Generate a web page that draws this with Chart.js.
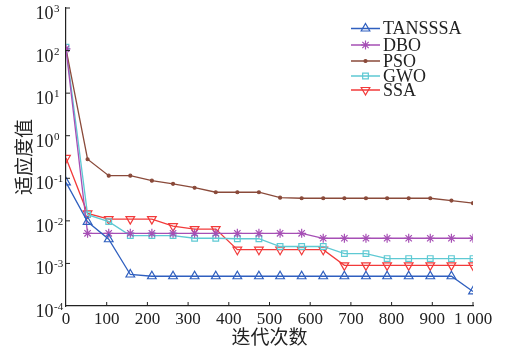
<!DOCTYPE html>
<html>
<head>
<meta charset="utf-8">
<script src="https://cdn.jsdelivr.net/npm/chart.js@4/dist/chart.umd.min.js"></script>
<style>
html,body{margin:0;padding:0;background:#fff;}
#wrap{position:relative;width:508px;height:348px;}
</style>
</head>
<body>
<div id="wrap"><canvas id="c" width="508" height="348"></canvas></div>
<script>
const iterations = [0, 53, 105, 158, 211, 263, 316, 368, 421, 474, 526, 579, 632, 684, 737, 789, 842, 895, 947, 1000];
const TANSSSA = [0.08, 0.0095, 0.0037, 0.00055, 0.0005, 0.0005, 0.0005, 0.0005, 0.0005, 0.0005, 0.0005, 0.0005, 0.0005, 0.0005, 0.0005, 0.0005, 0.0005, 0.0005, 0.0005, 0.00022];
const DBO = [110, 0.0051, 0.0051, 0.0051, 0.0051, 0.0051, 0.0051, 0.0051, 0.0051, 0.0051, 0.0051, 0.0051, 0.0039, 0.0039, 0.0039, 0.0039, 0.0039, 0.0039, 0.0039, 0.0039];
const PSO = [110, 0.28, 0.115, 0.115, 0.088, 0.074, 0.06, 0.047, 0.047, 0.047, 0.035, 0.034, 0.034, 0.034, 0.034, 0.034, 0.034, 0.034, 0.03, 0.026];
const GWO = [120, 0.014, 0.0096, 0.0045, 0.0045, 0.0045, 0.0039, 0.0039, 0.0038, 0.0038, 0.0025, 0.0025, 0.0025, 0.0017, 0.0017, 0.0013, 0.0013, 0.0013, 0.0013, 0.0013];
const SSA = [0.3, 0.015, 0.011, 0.011, 0.011, 0.0075, 0.0064, 0.0064, 0.0021, 0.0021, 0.0021, 0.0021, 0.0021, 0.0009, 0.0009, 0.0009, 0.0009, 0.0009, 0.0009, 0.0009];
const yTickExponents = [-4, -3, -2, -1, 0, 1, 2, 3];
const xTickLabels = {0:'0',100:'100',200:'200',300:'300',400:'400',500:'500',600:'600',700:'700',800:'800',900:'900',1000:'1 000'};

const seriesDefs = [
  {label:'TANSSSA', data:TANSSSA, color:'#2f5fbf', style:'triangle', r:5, rot:0},
  {label:'DBO', data:DBO, color:'#a64fb5', style:'star', r:4.5, rot:0},
  {label:'PSO', data:PSO, color:'#8a4a3a', style:'circle', r:1.5, rot:0},
  {label:'GWO', data:GWO, color:'#5ec9d3', style:'rect', r:4, rot:0},
  {label:'SSA', data:SSA, color:'#f23a3a', style:'triangle', r:5, rot:180}
];

const datasets = seriesDefs.map(s => ({
  label: s.label,
  data: s.data.map((v,i)=>({x:iterations[i], y:v})),
  borderColor: s.color,
  backgroundColor: s.style==='circle' ? s.color : 'rgba(0,0,0,0)',
  pointBorderColor: s.color,
  pointBackgroundColor: s.style==='circle' ? s.color : 'rgba(0,0,0,0)',
  pointStyle: s.style,
  pointRadius: s.r,
  pointRotation: s.rot,
  pointBorderWidth: 1.2,
  borderWidth: 1.3,
  tension: 0,
  fill: false
}));

const legendPlugin = {
  id:'customLegend',
  afterDraw(chart){
    const ctx = chart.ctx;
    const rows = [28.5, 45, 61, 76, 90];
    ctx.save();
    seriesDefs.forEach((s,i)=>{
      const y = rows[i];
      ctx.strokeStyle = s.color; ctx.lineWidth = 1.5;
      ctx.beginPath(); ctx.moveTo(351,y); ctx.lineTo(380,y); ctx.stroke();
      ctx.fillStyle = s.style==='circle' ? s.color : 'rgba(0,0,0,0)';
      ctx.lineWidth = 1.2;
      Chart.helpers.drawPoint(ctx, {pointStyle:s.style, radius:s.r, rotation:s.rot, borderWidth:1.2}, 365.5, y);
      ctx.fillStyle = '#222';
      ctx.font = '18px "Liberation Serif"';
      ctx.textBaseline = 'middle';
      ctx.textAlign = 'left';
      ctx.fillText(s.label, 383, y+1);
    });
    ctx.restore();
  }
};

const yLabelPlugin = {
  id:'yLabels',
  afterDraw(chart){
    const ctx = chart.ctx, ys = chart.scales.y;
    ctx.save();
    ctx.fillStyle = '#222';
    ctx.textAlign = 'left';
    ctx.textBaseline = 'alphabetic';
    yTickExponents.forEach(e=>{
      const py = ys.getPixelForValue(Math.pow(10,e));
      ctx.font = '18px "Liberation Serif"';
      ctx.fillText('10', 35.5, py + 11);
      ctx.font = '11px "Liberation Serif"';
      ctx.fillText(String(e), 54, py + 4);
    });
    ctx.restore();
  }
};

new Chart(document.getElementById('c'), {
  type:'line',
  data:{datasets},
  options:{
    responsive:false,
    animation:false,
    layout:{padding:{top:8,right:35,left:0,bottom:0}},
    plugins:{legend:{display:false}, tooltip:{enabled:false}},
    scales:{
      x:{
        type:'linear', min:0, max:1000,
        grid:{display:false, drawTicks:false},
        border:{color:'#222', width:1.2},
        ticks:{stepSize:100, autoSkip:false, color:'#222', font:{family:'Liberation Serif', size:17}, padding:3, maxRotation:0,
          callback:(v)=> xTickLabels[v] !== undefined ? xTickLabels[v] : ''},
        title:{display:true, text:'迭代次数', color:'#222', font:{family:'Noto Sans CJK SC', size:19}, padding:{top:-4,bottom:0}},
        afterFit(scale){ scale.height = 42; }
      },
      y:{
        type:'logarithmic', min:1e-4, max:1e3,
        grid:{display:false, drawTicks:false},
        border:{color:'#222', width:1.2},
        ticks:{display:false},
        afterBuildTicks(scale){ scale.ticks = yTickExponents.map(e=>({value:Math.pow(10,e)})); },
        title:{display:true, text:'适应度值', color:'#222', font:{family:'Noto Sans CJK SC', size:19}, padding:{top:12,bottom:0}},
        afterFit(scale){ scale.width = 66; }
      }
    }
  },
  plugins:[legendPlugin, yLabelPlugin, {
    id:'inTicks',
    afterDraw(chart){
      const ctx = chart.ctx, a = chart.chartArea;
      const xs = chart.scales.x, ys = chart.scales.y;
      ctx.save(); ctx.strokeStyle='#222'; ctx.lineWidth=1;
      for(let v=100; v<=1000; v+=100){ const px = xs.getPixelForValue(v); ctx.beginPath(); ctx.moveTo(px,a.bottom); ctx.lineTo(px,a.bottom-4); ctx.stroke(); }
      for(let e=-3; e<=3; e++){ const py = ys.getPixelForValue(Math.pow(10,e)); ctx.beginPath(); ctx.moveTo(a.left,py); ctx.lineTo(a.left+4,py); ctx.stroke(); }
      ctx.restore();
    }
  }]
});
</script>
</body>
</html>
